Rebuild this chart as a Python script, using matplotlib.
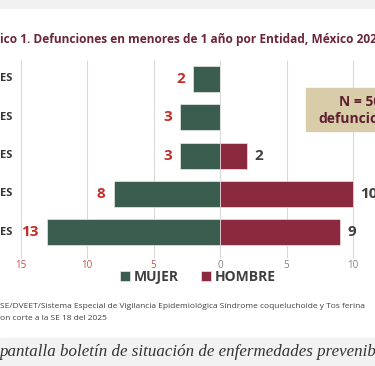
import numpy as np
import matplotlib.pyplot as plt
from matplotlib.patches import Rectangle

# data (state names are cut off in the screenshot)
estados = ["ES", "ES", "ES", "ES", "ES"]
mujer = [2, 3, 3, 8, 13]
hombre = [0, 0, 2, 10, 9]
ticks = [-15, -10, -5, 0, 5, 10]
tick_labels = ["15", "10", "5", "0", "5", "10"]

verde = "#3a5d4f"
guinda = "#8b2a3e"
rojo = "#c0302a"

plt.rcParams["font.family"] = ["Open Sans", "DejaVu Sans"]

W, H = 375, 366
fig = plt.figure(figsize=(W / 100, H / 100), dpi=100)
fig.patch.set_facecolor("white")

# grey bands of the screenshot
fig.patches.append(Rectangle((0, 1 - 8 / H), 1, 8 / H, transform=fig.transFigure,
                             color="#f1f1f1", zorder=0))
fig.patches.append(Rectangle((0, 0), 1, 28 / H, transform=fig.transFigure,
                             color="#f2f2f2", zorder=0))

ax = fig.add_axes([0, 0, 1, 1])
ax.set_facecolor("none")
ax.axis("off")

# pixel -> data mapping: x 0 at 220px, 13.3 px per unit; rows 38.3 px apart from 79px
px_x = 13.3
ax.set_xlim(-220 / px_x, (W - 220) / px_x)
row = 38.3
ax.set_ylim((H - 79) / row, -79 / row)

y = np.arange(len(estados))

# vertical grid
ax.vlines(ticks, (60 - 79) / row, (258 - 79) / row, color="#d9d9d9", lw=0.8, zorder=1)

b1 = ax.barh(y, -np.array(mujer), height=0.68, color=verde, edgecolor="#e6ece9",
             lw=0.5, zorder=2, label="MUJER")
b2 = ax.barh(y, hombre, height=0.68, color=guinda, edgecolor="#efe3e6",
             lw=0.5, zorder=2, label="HOMBRE")

for yi, v in zip(y, mujer):
    ax.text(-v - 0.6, yi, str(v), ha="right", va="center", color=rojo,
            fontsize=11, fontweight="bold")
for yi, v in zip(y, hombre):
    if v > 0:
        ax.text(v + 0.55, yi, str(v), ha="left", va="center", color="#404040",
                fontsize=11, fontweight="bold")

# cut-off state labels at the left edge
for yi, lab in zip(y, estados):
    ax.text(-220 / px_x, yi, lab, ha="left", va="center", color="#333333",
            fontsize=8, fontweight="bold")

# tick labels
ty = (266 - 79) / row
for t, lab in zip(ticks, tick_labels):
    ax.text(t, ty, lab, ha="center", va="center", fontsize=7,
            color="#c0504d" if t < 0 else "#808080")

ax.legend(handles=[b1, b2], loc="center", bbox_to_anchor=(198 / W, 1 - 277 / H),
          bbox_transform=fig.transFigure, ncol=2, frameon=False,
          handlelength=0.7, handleheight=0.7, handletextpad=0.3, columnspacing=1.6,
          prop={"size": 10, "weight": "bold"}, labelcolor="#404040")

# title (cropped in the screenshot)
fig.text(0, 1 - 40 / H, "ico 1. Defunciones en menores de 1 año por Entidad, México 202",
         ha="left", va="center", fontsize=8.6, fontweight="bold", color="#6b2538")

# N box
fig.patches.append(Rectangle((306 / W, 1 - 131 / H), 80 / W, 43 / H,
                             transform=fig.transFigure, color="#d9cca8", zorder=3))
fig.text(339 / W, 1 - 102 / H, "N = 50", ha="left", va="center", fontsize=10,
         fontweight="bold", color="#5e1f30", zorder=4)
fig.text(318 / W, 1 - 119 / H, "defunciones", ha="left", va="center", fontsize=10,
         fontweight="bold", color="#5e1f30", zorder=4)

# source note
fig.text(0, 1 - 306 / H,
         "SE/DVEET/Sistema Especial de Vigilancia Epidemiológica Síndrome coqueluchoide y Tos ferina",
         ha="left", va="center", fontsize=6.0, color="#404040")
fig.text(0, 1 - 318 / H, "on corte a la SE 18 del 2025", ha="left", va="center",
         fontsize=6.0, color="#404040")

# caption of the screenshot
fig.text(0, 1 - 352 / H, "pantalla boletín de situación de enfermedades prevenib",
         ha="left", va="center", fontsize=12.2, style="italic", color="#333333",
         family=["Liberation Serif", "DejaVu Serif"])

fig.savefig("out.png", dpi=100)
